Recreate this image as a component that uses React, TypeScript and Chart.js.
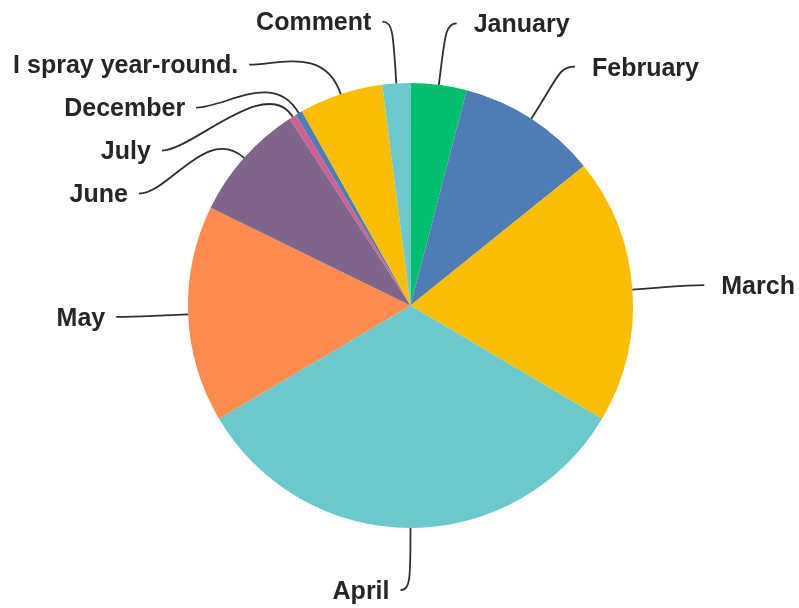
import React, { useEffect, useRef } from 'react';
import { Chart, registerables } from 'chart.js';

Chart.register(...registerables);

const categories = [
  'January',
  'February',
  'March',
  'April',
  'May',
  'June',
  'July',
  'December',
  'I spray year-round.',
  'Comment',
];
const responses = [8, 20, 38, 65, 31, 17, 1, 1, 12, 4];
const sliceColors = [
  '#00bf6f',
  '#507cb6',
  '#f9be00',
  '#6bc8cd',
  '#ff8b4f',
  '#7f658a',
  '#d25f90',
  '#507cb6',
  '#f9be00',
  '#6bc8cd',
];

const LABEL_GAP = 62;
const LABEL_SPACING = 43;
const ELBOW = 50;
const LINE_EXT = 10;
const FONT = 'bold 25px "Liberation Sans", Arial, sans-serif';

const outsideLabels = {
  id: 'outsideLabels',
  afterDatasetsDraw(chart: any) {
    const meta = chart.getDatasetMeta(0);
    const ctx: CanvasRenderingContext2D = chart.ctx;
    const labels = chart.data.labels as string[];
    const items = meta.data.map((arc: any, i: number) => {
      const p = arc.getProps(['x', 'y', 'startAngle', 'endAngle', 'outerRadius'], true);
      const a = (p.startAngle + p.endAngle) / 2;
      const cos = Math.cos(a);
      const sin = Math.sin(a);
      const Rl = p.outerRadius + LABEL_GAP;
      return {
        text: labels[i],
        cx: p.x,
        cy: p.y,
        r: p.outerRadius,
        cos,
        sin,
        Rl,
        right: cos > 0.02,
        x: p.x + Rl * cos,
        y: p.y + Rl * sin,
        pushed: false,
      };
    });
    for (const side of [true, false]) {
      const group = items.filter((it: any) => it.right === side).sort((u: any, v: any) => u.y - v.y);
      for (let k = 1; k < group.length; k++) {
        if (group[k].y < group[k - 1].y + LABEL_SPACING) {
          group[k].y = group[k - 1].y + LABEL_SPACING;
          group[k].pushed = true;
        }
      }
    }
    ctx.save();
    for (const it of items) {
      const s = it.right ? 1 : -1;
      if (it.pushed) {
        const dy = it.y - it.cy;
        it.x = it.cx + s * Math.sqrt(Math.max(0, it.Rl * it.Rl - dy * dy));
      }
      const p0x = it.cx + it.r * it.cos;
      const p0y = it.cy + it.r * it.sin;
      const c1x = p0x + ELBOW * it.cos;
      const c1y = p0y + ELBOW * it.sin;
      const p2x = it.x + s * LINE_EXT;
      const p2y = it.y;
      const c2x = p2x - s * Math.min(30, Math.abs(p2x - c1x));
      const c2y = p2y;
      ctx.beginPath();
      ctx.moveTo(p0x, p0y);
      ctx.bezierCurveTo(c1x, c1y, c2x, c2y, p2x, p2y);
      ctx.strokeStyle = '#2f2f2f';
      ctx.lineWidth = 1.8;
      ctx.stroke();

      ctx.font = FONT;
      ctx.fillStyle = '#262626';
      ctx.textBaseline = 'middle';
      ctx.textAlign = it.right ? 'left' : 'right';
      ctx.fillText(it.text, it.right ? p2x + 17 : p2x - 11, p2y + 2);
    }
    ctx.restore();
  },
};

export default function App() {
  const canvasRef = useRef<HTMLCanvasElement | null>(null);

  useEffect(() => {
    if (!canvasRef.current) return;
    const chart = new Chart(canvasRef.current, {
      type: 'pie',
      data: {
        labels: categories,
        datasets: [
          {
            data: responses,
            backgroundColor: sliceColors,
            borderColor: sliceColors,
            borderWidth: 0,
          },
        ],
      },
      options: {
        responsive: false,
        animation: false,
        devicePixelRatio: 1,
        layout: { padding: { top: 83, bottom: 80, left: 188, right: 166 } },
        plugins: {
          legend: { display: false },
          tooltip: { enabled: false },
        },
      },
      plugins: [outsideLabels],
    });
    return () => chart.destroy();
  }, []);

  return (
    <div style={{ position: 'absolute', left: 0, top: 0, width: 799, height: 608, background: '#ffffff' }}>
      <canvas ref={canvasRef} width={799} height={608} style={{ display: 'block' }} />
    </div>
  );
}
